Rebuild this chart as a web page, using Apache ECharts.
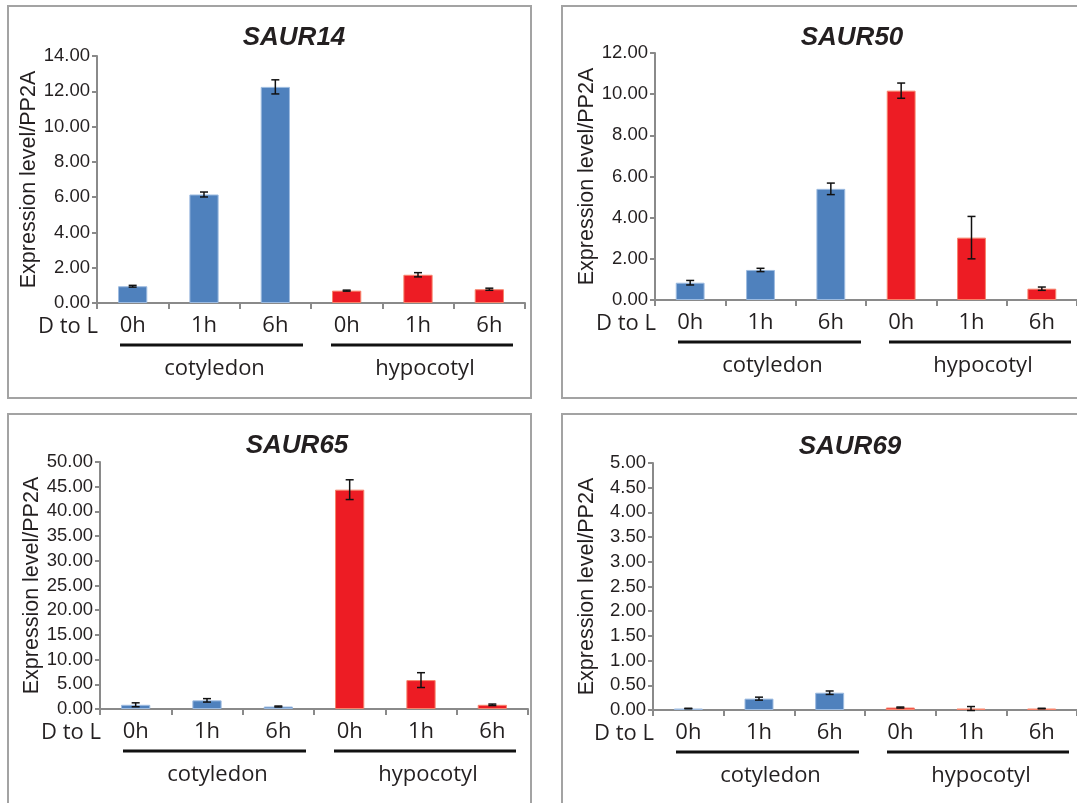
<!DOCTYPE html>
<html>
<head>
<meta charset="utf-8">
<script src="https://cdn.jsdelivr.net/npm/echarts@6/dist/echarts.min.js"></script>
<style>
  html, body { margin: 0; padding: 0; background: #fff; }
  #main { width: 1077px; height: 803px; }
</style>
</head>
<body>
<div id="main"></div>
<script>
// categories
var tissues = ['cotyledon', 'hypocotyl'];
var times = ['0h', '1h', '6h'];

// SAUR14
var saur14Mean = [0.95, 6.15, 12.25, 0.70, 1.60, 0.78];
var saur14Err = [0.05, 0.14, 0.40, 0.03, 0.12, 0.06];
// SAUR50
var saur50Mean = [0.84, 1.46, 5.40, 10.17, 3.03, 0.55];
var saur50Err = [0.11, 0.08, 0.28, 0.37, 1.03, 0.08];
// SAUR65
var saur65Mean = [0.85, 1.75, 0.50, 44.4, 5.85, 0.85];
var saur65Err = [0.40, 0.35, 0.10, 2.00, 1.50, 0.15];
// SAUR69
var saur69Mean = [0.03, 0.23, 0.35, 0.05, 0.03, 0.03];
var saur69Err = [0.005, 0.03, 0.035, 0.01, 0.04, 0.005];

// y axis ticks
var yMax = [14, 12, 50, 5];
var yStep = [2, 2, 5, 0.5];
var genes = ['SAUR14', 'SAUR50', 'SAUR65', 'SAUR69'];

var means = [saur14Mean, saur50Mean, saur65Mean, saur69Mean];
var errs = [saur14Err, saur50Err, saur65Err, saur69Err];

// where each panel sits on the page
var panels = [
  { left: 97,  top: 56,  height: 247, titleY: 37.5, box: [8, 6, 523, 392] },
  { left: 655, top: 53,  height: 247, titleY: 37.5, box: [562, 6, 540, 392] },
  { left: 100, top: 462, height: 247, titleY: 446, box: [8, 414, 523, 400] },
  { left: 653, top: 463, height: 247, titleY: 447, box: [562, 414, 540, 400] }
];
var plotW = 428;

var blue = '#4f81bd', blueEdge = '#9dbbe0';
var red = '#ed1c24', redEdge = '#f7836b';
var axisGray = '#8a8a8a';
var ink = '#231f20';
var catFont = '"Open Sans", "Noto Sans", sans-serif';
var numFont = '"Liberation Sans", Arial, sans-serif';

var cats = [];
tissues.forEach(function (t) { times.forEach(function (h) { cats.push(t + '|' + h); }); });

var chart = echarts.init(document.getElementById('main'));

var grid = [], xAxis = [], yAxis = [], series = [], graphic = [];

panels.forEach(function (p, i) {
  grid.push({ left: p.left, top: p.top, width: plotW, height: p.height });
  xAxis.push({
    type: 'category', gridIndex: i, data: cats, boundaryGap: true,
    axisLine: { lineStyle: { color: axisGray, width: 2 } },
    axisTick: { show: true, length: 6, lineStyle: { color: axisGray, width: 2 } },
    axisLabel: {
      margin: 12, color: ink, fontFamily: catFont, fontSize: 22,
      formatter: function (v) { return v.split('|')[1]; }
    },
    splitLine: { show: false }
  });
  yAxis.push({
    type: 'value', gridIndex: i, min: 0, max: yMax[i], interval: yStep[i],
    name: 'Expression level/PP2A', nameLocation: 'middle', nameGap: 55,
    nameTextStyle: { color: ink, fontFamily: numFont, fontSize: 21.5 },
    axisLine: { show: true, lineStyle: { color: axisGray, width: 2 } },
    axisTick: { show: true, length: 5, lineStyle: { color: axisGray, width: 2 } },
    axisLabel: {
      margin: 7, color: ink, fontFamily: numFont, fontSize: 18.5,
      formatter: function (v) { return v.toFixed(2); }
    },
    splitLine: { show: false }
  });

  var barData = means[i].map(function (v, k) {
    var cot = k < 3;
    return {
      value: v,
      itemStyle: { color: cot ? blue : red, borderColor: cot ? blueEdge : redEdge, borderWidth: 1 }
    };
  });
  series.push({
    type: 'bar', xAxisIndex: i, yAxisIndex: i, barWidth: '41%',
    data: barData, silent: true, animation: false
  });
  series.push({
    type: 'custom', xAxisIndex: i, yAxisIndex: i, z: 5, animation: false, silent: true,
    encode: { x: 0, y: 1 },
    data: means[i].map(function (v, k) { return [k, v, errs[i][k]]; }),
    renderItem: function (params, api) {
      var k = api.value(0), m = api.value(1), e = api.value(2);
      var hi = api.coord([k, m + e]);
      var lo = api.coord([k, m - e]);
      var cap = 4;
      var st = { stroke: '#111', lineWidth: 1.5 };
      return {
        type: 'group',
        children: [
          { type: 'line', shape: { x1: hi[0], y1: hi[1], x2: lo[0], y2: lo[1] }, style: st },
          { type: 'line', shape: { x1: hi[0] - cap, y1: hi[1], x2: hi[0] + cap, y2: hi[1] }, style: st },
          { type: 'line', shape: { x1: lo[0] - cap, y1: lo[1], x2: lo[0] + cap, y2: lo[1] }, style: st }
        ]
      };
    }
  });

  // panel frame
  graphic.push({
    type: 'rect', shape: { x: p.box[0], y: p.box[1], width: p.box[2], height: p.box[3] },
    style: { fill: null, stroke: '#a3a3a3', lineWidth: 2 }, z: 0, silent: true
  });
  // gene name
  graphic.push({
    type: 'text', x: p.left + 197, y: p.titleY,
    style: {
      text: genes[i], fill: ink, font: 'italic bold 26px "Liberation Sans", Arial, sans-serif',
      align: 'center', verticalAlign: 'middle'
    }
  });
  var base = p.top + p.height;
  var bw = plotW / 6;
  graphic.push({
    type: 'text', x: p.left + 1, y: base + 23.5,
    style: { text: 'D to L', fill: ink, font: '22px ' + catFont, align: 'right', verticalAlign: 'middle' }
  });
  // group underlines and names
  [[0, 23, -8], [3, 20, -12]].forEach(function (g, j) {
    var x1 = p.left + g[0] * bw + g[1];
    var x2 = p.left + (g[0] + 3) * bw + g[2];
    graphic.push({
      type: 'rect', shape: { x: x1, y: base + 40.5, width: x2 - x1, height: 3 },
      style: { fill: '#111' }, silent: true
    });
    graphic.push({
      type: 'text', x: (x1 + x2) / 2 + 3, y: base + 66,
      style: { text: tissues[j], fill: ink, font: '22px ' + catFont, align: 'center', verticalAlign: 'middle' }
    });
  });
});

chart.setOption({
  backgroundColor: '#ffffff',
  animation: false,
  grid: grid,
  xAxis: xAxis,
  yAxis: yAxis,
  series: series,
  graphic: graphic
});
</script>
</body>
</html>
